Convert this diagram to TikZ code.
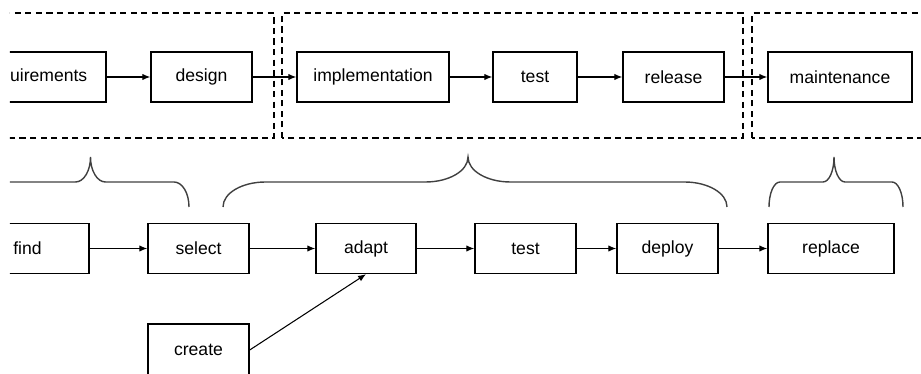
\documentclass[tikz,border=0pt]{standalone}
\usepackage{fontspec}
\setmainfont{Liberation Sans}
\usetikzlibrary{arrows.meta}

\begin{document}
\begin{tikzpicture}[>={Latex[length=4.5pt,width=3.6pt]},
  box/.style={draw,line width=0.8pt,minimum height=1cm,inner sep=0pt,font=\fontsize{10}{12}\selectfont},
  frame/.style={dash pattern=on 3.5pt off 2.5pt,line width=0.6pt},
  brace/.style={line width=0.8pt,draw=black!75}]
\useasboundingbox (0,0) rectangle (18.42,7.48);
\clip (0.2,0) rectangle (18.42,7.48);
% top row: development phases
\node[box,minimum width=2.8cm] (req) at (0.72,5.94) {requirements};
\node[box,minimum width=2.02cm] (des) at (4.03,5.94) {design};
\node[box,minimum width=3.04cm] (imp) at (7.46,5.94) {implementation};
\node[box,minimum width=1.68cm] (tst) at (10.7,5.94) {test};
\node[box,minimum width=2.02cm] (rel) at (13.47,5.94) {release};
\node[box,minimum width=2.88cm] (mnt) at (16.8,5.94) {maintenance};
\draw[->,line width=0.6pt] (req) -- (des);
\draw[->,line width=0.6pt] (des) -- (imp);
\draw[->,line width=0.6pt] (imp) -- (tst);
\draw[->,line width=0.6pt] (tst) -- (rel);
\draw[->,line width=0.6pt] (rel) -- (mnt);
% dashed frames round the phases
\draw[frame] (-1,4.72) rectangle (5.48,7.22);
\draw[frame] (5.64,4.72) rectangle (14.86,7.22);
\draw[frame] (15.04,4.72) rectangle (19,7.22);
% bottom row: component steps
\node[box,minimum width=2.46cm] (fnd) at (0.55,2.51) {find};
\node[box,minimum width=2.02cm] (sel) at (3.97,2.51) {select};
\node[box,minimum width=2.0cm] (adp) at (7.32,2.51) {adapt};
\node[box,minimum width=2.02cm] (tst2) at (10.51,2.51) {test};
\node[box,minimum width=2.02cm] (dep) at (13.35,2.51) {deploy};
\node[box,minimum width=2.52cm] (rep) at (16.62,2.51) {replace};
\node[box,minimum width=2.02cm,minimum height=1.04cm] (cre) at (3.97,0.48) {create};
\draw[->,line width=0.6pt] (fnd) -- (sel);
\draw[->,line width=0.6pt] (sel) -- (adp);
\draw[->,line width=0.6pt] (adp) -- (tst2);
\draw[->,line width=0.6pt] (tst2) -- (dep);
\draw[->,line width=0.6pt] (dep) -- (rep);
\draw[->,line width=0.6pt] (cre.east) -- (adp.south);
% braces: left end / tip / right end / curve width
\foreach \a/\m/\b/\c in {-0.15/1.81/3.78/0.3, 4.46/9.36/14.54/0.85, 15.38/16.68/18.06/0.22}
  \draw[brace] (\a,3.34) .. controls (\a,3.62) and ({\a+0.45*\c},3.84) .. ({\a+\c},3.84)
    -- ({\m-\c},3.84) .. controls ({\m-0.45*\c},3.84) and (\m,4.06) .. (\m,4.34)
    .. controls (\m,4.06) and ({\m+0.45*\c},3.84) .. ({\m+\c},3.84)
    -- ({\b-\c},3.84) .. controls ({\b-0.45*\c},3.84) and (\b,3.62) .. (\b,3.34);
\end{tikzpicture}
\end{document}
